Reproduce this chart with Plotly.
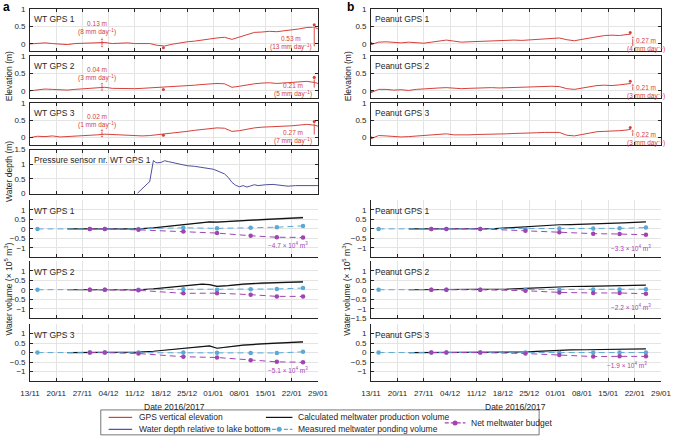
import plotly.graph_objects as go
import pandas as pd

# ---------------- data ----------------
TICK_DATES = ["2016-11-13", "2016-11-20", "2016-11-27", "2016-12-04", "2016-12-11", "2016-12-18",
              "2016-12-25", "2017-01-01", "2017-01-08", "2017-01-15", "2017-01-22", "2017-01-29"]
TICK_LABELS = ["13/11", "20/11", "27/11", "04/12", "11/12", "18/12",
               "25/12", "01/01", "08/01", "15/01", "22/01", "29/01"]
X_RANGE = ["2016-11-13", "2017-01-29"]

# GPS elevation (m), 2-day sampling
WT_DATES = list(pd.date_range("2016-11-13", periods=39, freq="2D").strftime("%Y-%m-%d")) + ["2017-01-29"]
WT_GPS1 = [0.00, 0.02, 0.03, 0.01, 0.00, -0.02, 0.01, 0.02, 0.01, 0.03, 0.04, 0.01, 0.02, 0.03, 0.01,
           0.00, 0.01, -0.04, -0.06, -0.01, 0.03, 0.06, 0.08, 0.12, 0.14, 0.17, 0.19, 0.13, 0.20, 0.27,
           0.33, 0.34, 0.36, 0.35, 0.37, 0.41, 0.43, 0.47, 0.48, 0.43]
WT_GPS2 = [0.00, 0.03, 0.05, 0.04, 0.03, 0.02, 0.04, 0.05, 0.06, 0.07, 0.10, 0.07, 0.06, 0.05, 0.06,
           0.07, 0.08, 0.09, 0.10, 0.11, 0.12, 0.14, 0.16, 0.18, 0.20, 0.21, 0.20, 0.10, 0.13, 0.17,
           0.20, 0.22, 0.23, 0.21, 0.22, 0.24, 0.26, 0.27, 0.24, 0.21]
WT_GPS3 = [0.00, 0.04, 0.03, 0.05, 0.02, 0.03, 0.05, 0.04, 0.07, 0.08, 0.10, 0.09, 0.07, 0.06, 0.05,
           0.05, 0.06, 0.08, 0.10, 0.13, 0.15, 0.18, 0.21, 0.23, 0.26, 0.28, 0.27, 0.18, 0.20, 0.25,
           0.28, 0.30, 0.31, 0.30, 0.31, 0.34, 0.36, 0.38, 0.36, 0.33]

PN_DATES = list(pd.date_range("2016-11-13", periods=35, freq="2D").strftime("%Y-%m-%d")) + ["2017-01-21"]
PN_GPS1 = [-0.02, 0.05, 0.06, 0.04, 0.03, 0.05, 0.03, 0.02, 0.05, 0.07, 0.11, 0.08, 0.05, 0.06, 0.07,
           0.06, 0.08, 0.09, 0.10, 0.11, 0.10, 0.11, 0.12, 0.14, 0.16, 0.17, 0.12, 0.09, 0.13, 0.17,
           0.22, 0.24, 0.25, 0.24, 0.27, 0.28]
PN_GPS2 = [-0.05, 0.04, 0.04, 0.02, 0.03, 0.01, 0.04, 0.06, 0.07, 0.08, 0.09, 0.07, 0.06, 0.07, 0.08,
           0.09, 0.09, 0.08, 0.09, 0.10, 0.10, 0.11, 0.11, 0.12, 0.13, 0.12, 0.06, 0.04, 0.08, 0.11,
           0.15, 0.16, 0.15, 0.17, 0.19, 0.21]
PN_GPS3 = [-0.03, 0.06, 0.05, 0.03, 0.02, 0.03, 0.05, 0.06, 0.08, 0.10, 0.11, 0.08, 0.07, 0.08, 0.09,
           0.09, 0.10, 0.11, 0.11, 0.12, 0.12, 0.13, 0.14, 0.15, 0.16, 0.15, 0.07, 0.05, 0.09, 0.13,
           0.17, 0.18, 0.18, 0.20, 0.22, 0.24]

# uplift events: (date, low, high)
WT_EVENT1_DATE = "2016-12-02 06:00"
WT_EVENT1 = [(-0.07, 0.13), (0.02, 0.20), (0.03, 0.21)]
WT_EVENT1_TEXT = ["0.13 m<br>(8 mm day<sup>−1</sup>)", "0.04 m<br>(3 mm day<sup>−1</sup>)",
                  "0.02 m<br>(1 mm day<sup>−1</sup>)"]
WT_DOT_DATE = "2016-12-18 16:00"
WT_DOT = [-0.11, 0.04, 0.07]
WT_EVENT2_DATE = "2017-01-28 00:00"
WT_EVENT2 = [(-0.07, 0.52), (0.09, 0.36), (0.09, 0.43)]
WT_EVENT2_TEXT = ["0.53 m<br>(13 mm day<sup>−1</sup>)", "0.21 m<br>(5 mm day<sup>−1</sup>)",
                  "0.27 m<br>(7 mm day<sup>−1</sup>)"]
PN_DOT_DATE = "2017-01-20 20:00"
PN_DOT = [0.33, 0.27, 0.29]
PN_EVENT_DATE = "2017-01-21 12:00"
PN_EVENT = [(-0.06, 0.18), (0.02, 0.16), (0.05, 0.19)]
PN_EVENT_TEXT = ["0.27 m<br>(4 mm day<sup>−1</sup>)", "0.21 m<br>(3 mm day<sup>−1</sup>)",
                 "0.22 m<br>(3 mm day<sup>−1</sup>)"]

# pressure sensor water depth (m)
DEPTH_DATES = ["2016-12-11 16:00", "2016-12-13 00:00", "2016-12-14 12:00", "2016-12-15 00:00",
               "2016-12-15 12:00", "2016-12-16 00:00", "2016-12-16 12:00", "2016-12-17 00:00",
               "2016-12-18 00:00", "2016-12-19 00:00", "2016-12-20 00:00", "2016-12-21 00:00",
               "2016-12-22 00:00", "2016-12-24 00:00", "2016-12-25 00:00", "2016-12-27 00:00",
               "2016-12-29 00:00", "2016-12-31 00:00", "2017-01-01 00:00", "2017-01-02 00:00",
               "2017-01-03 00:00", "2017-01-04 00:00", "2017-01-05 00:00", "2017-01-06 00:00",
               "2017-01-07 00:00", "2017-01-08 00:00", "2017-01-09 00:00", "2017-01-10 00:00",
               "2017-01-11 00:00", "2017-01-12 00:00", "2017-01-13 00:00", "2017-01-14 00:00",
               "2017-01-15 00:00", "2017-01-17 00:00", "2017-01-19 00:00", "2017-01-21 00:00",
               "2017-01-23 00:00", "2017-01-25 00:00", "2017-01-27 00:00", "2017-01-29 00:00"]
DEPTH = [0.00, 0.18, 0.35, 0.40, 0.75, 1.13, 1.07, 1.05, 1.06, 1.12, 1.09, 1.06,
         1.02, 0.98, 0.95, 0.93, 0.90, 0.86, 0.83, 0.78, 0.73, 0.67, 0.55, 0.38,
         0.28, 0.23, 0.27, 0.22, 0.26, 0.30, 0.27, 0.29, 0.30, 0.31, 0.29, 0.25,
         0.27, 0.27, 0.27, 0.27]

# water volumes (x 10^5 m^3)
CALC_DATES = ["2016-11-23", "2016-11-30", "2016-12-06", "2016-12-12", "2016-12-16", "2016-12-19",
              "2016-12-24", "2016-12-27", "2016-12-29", "2016-12-31", "2017-01-02", "2017-01-05",
              "2017-01-09", "2017-01-14", "2017-01-19", "2017-01-25"]
CALC_WT1 = [0, 0, 0, 0.0, 0.05, 0.12, 0.20, 0.28, 0.33, 0.37, 0.36, 0.38, 0.44, 0.49, 0.54, 0.60]
CALC_WT2 = [0, 0, 0, 0.0, 0.05, 0.10, 0.19, 0.26, 0.30, 0.27, 0.18, 0.22, 0.30, 0.35, 0.39, 0.42]
CALC_WT3 = [0, 0, 0, 0.02, 0.07, 0.13, 0.23, 0.28, 0.32, 0.35, 0.23, 0.30, 0.39, 0.46, 0.49, 0.56]
CALC_UNC = [0, 0, 0, 0, 0.005, 0.01, 0.015, 0.02, 0.02, 0.025, 0.025, 0.03, 0.035, 0.04, 0.045, 0.05]
CALC_PN1 = [0, 0, 0, 0.0, 0.02, 0.05, 0.12, 0.15, 0.18, 0.20, 0.22, 0.23, 0.25, 0.28, 0.32, 0.37]
CALC_PN2 = [0, 0, 0, 0.0, 0.01, 0.03, 0.07, 0.10, 0.12, 0.14, 0.16, 0.17, 0.18, 0.20, 0.22, 0.24]
CALC_PN3 = [0, 0, 0, 0.0, 0.00, 0.01, 0.03, 0.06, 0.08, 0.10, 0.12, 0.14, 0.15, 0.16, 0.18, 0.20]

POND_DATES = ["2016-11-15", "2016-11-29", "2016-12-03", "2016-12-12", "2016-12-24",
              "2017-01-02", "2017-01-11", "2017-01-18", "2017-01-25"]
POND_WT1 = [0, 0, 0, 0, 0.06, 0.03, 0.06, 0.09, 0.16]
POND_WT2 = [0, 0, 0, 0, 0.02, 0.00, 0.02, 0.04, 0.09]
POND_WT3 = [0, 0, 0, 0, 0.00, -0.01, -0.02, -0.02, 0.04]
POND_PN1 = [0, 0, 0, 0, 0.00, 0.02, 0.02, 0.03, 0.07]
POND_PN2 = [0, 0, 0, 0, 0.00, 0.00, 0.01, 0.01, 0.03]
POND_PN3 = [0, 0, 0, 0, 0.00, -0.01, 0.00, 0.00, 0.00]

NET_DATES = POND_DATES[1:]
NET_WT1 = [0, 0, -0.05, -0.14, -0.22, -0.36, -0.44, -0.45]
NET_WT2 = [0, 0, -0.03, -0.19, -0.18, -0.26, -0.35, -0.35]
NET_WT3 = [0, 0, -0.05, -0.22, -0.26, -0.40, -0.49, -0.51]
NET_PN1 = [0, 0, 0.0, -0.10, -0.18, -0.25, -0.27, -0.31]
NET_PN2 = [0, 0, 0.0, -0.05, -0.14, -0.17, -0.17, -0.21]
NET_PN3 = [0, 0, 0.0, -0.05, -0.13, -0.21, -0.20, -0.20]
NET_TEXT = ["−4.7 × 10<sup>4</sup> m<sup>3</sup>", None, "−5.1 × 10<sup>4</sup> m<sup>3</sup>",
            "−3.3 × 10<sup>4</sup> m<sup>3</sup>", "−2.2 × 10<sup>4</sup> m<sup>3</sup>",
            "−1.9 × 10<sup>4</sup> m<sup>3</sup>"]
NET_TEXT_POS = [("2017-01-21", -0.84), None, ("2017-01-21", -0.90),
                ("2017-01-21", -1.0), ("2017-01-21", -0.90), ("2017-01-20", -0.68)]

# ---------------- layout helpers ----------------
W, H = 677, 436
ML, MR, MT, MB = 30, 5, 8, 55
PW = W - ML - MR
PH = H - MT - MB
FONT = "Liberation Sans, Arial, sans-serif"
AX = "#262626"
GRID = "#e4e4e4"
RED = "#d6403a"
BLUE = "#4f4f9e"
CYAN = "#5aa9d6"
PURP = "#a044b2"


def fx(px):
    return (px - ML) / PW


def fy(py):
    return (H - MB - py) / PH


LEFT_X = [fx(30), fx(323)]
RIGHT_X = [fx(377), fx(672)]
ROWS = {1: (8, 50), 2: (55, 97), 3: (102, 144), 4: (149, 193), 5: (200, 257), 6: (261, 318), 7: (324, 381)}


def aid(n):
    return "" if n == 1 else str(n)


fig = go.Figure()
lay = {}


def add_axes(n, col, row, yrange, ytv, ytt, box, xlabels):
    xa = dict(domain=LEFT_X if col == 0 else RIGHT_X, anchor="y" + aid(n), type="date", range=X_RANGE,
              tickvals=TICK_DATES, ticktext=TICK_LABELS, showticklabels=xlabels, ticks="inside", ticklen=3,
              tickwidth=0.8, tickcolor=AX, showline=True, linecolor=AX, linewidth=0.8,
              mirror="allticks" if box else False, showgrid=True, gridcolor=GRID, gridwidth=0.6,
              zeroline=False, tickfont=dict(size=8, color=AX, family=FONT), ticklabelstandoff=4)
    r = ROWS[row]
    ya = dict(domain=[fy(r[1]), fy(r[0])], anchor="x" + aid(n), range=yrange, tickvals=ytv, ticktext=ytt,
              ticks="inside", ticklen=3, tickwidth=0.8, tickcolor=AX, showline=True, linecolor=AX,
              linewidth=0.8, mirror="allticks" if box else False, showgrid=True, gridcolor=GRID,
              gridwidth=0.6, zeroline=False, tickfont=dict(size=8, color=AX, family=FONT), ticklabelstandoff=2)
    lay["xaxis" + aid(n)] = xa
    lay["yaxis" + aid(n)] = ya


def label(n, text):
    fig.add_annotation(xref="x" + aid(n) + " domain", yref="y" + aid(n) + " domain", x=0.008, y=0.93,
                       xanchor="left", yanchor="top", text=text, showarrow=False,
                       font=dict(size=8.5, color=AX, family=FONT))


ELEV_T = [0, 0.5, 1]
ELEV_L = ["0", "0.5", "1"]
VOL_T = [-1, -0.5, 0, 0.5, 1]
VOL_L = ["−1", "−0.5", "0", "0.5", "1"]
VOL_T2 = [-1.5, -1, -0.5, 0, 0.5, 1]
VOL_L2 = ["−1.5", "−1", "−0.5", "0", "0.5", "1"]

# elevation panels
elev_sets = [(1, 0, 1, WT_DATES, WT_GPS1, "WT GPS 1"), (2, 0, 2, WT_DATES, WT_GPS2, "WT GPS 2"),
             (3, 0, 3, WT_DATES, WT_GPS3, "WT GPS 3"), (8, 1, 1, PN_DATES, PN_GPS1, "Peanut GPS 1"),
             (9, 1, 2, PN_DATES, PN_GPS2, "Peanut GPS 2"), (10, 1, 3, PN_DATES, PN_GPS3, "Peanut GPS 3")]
for n, col, row, d, v, name in elev_sets:
    add_axes(n, col, row, [-0.2, 1.0], ELEV_T, ELEV_L, True, False)
    fig.add_trace(go.Scatter(x=d, y=v, mode="lines", line=dict(color=RED, width=1), xaxis="x" + aid(n),
                             yaxis="y" + aid(n), showlegend=False, hoverinfo="skip"))
    label(n, name)


def arrow(n, date, lo, hi, double):
    fig.add_trace(go.Scatter(x=[date, date], y=[lo, hi], mode="lines+markers",
                             line=dict(color=RED, width=0.9),
                             marker=dict(symbol=["triangle-down" if double else "circle", "triangle-up"],
                                         size=[4 if double else 0, 4], color=RED),
                             xaxis="x" + aid(n), yaxis="y" + aid(n), showlegend=False, hoverinfo="skip"))


def dot(n, date, y):
    fig.add_trace(go.Scatter(x=[date], y=[y], mode="markers", marker=dict(size=3, color=RED),
                             xaxis="x" + aid(n), yaxis="y" + aid(n), showlegend=False, hoverinfo="skip"))


def rtext(n, x, y, text, xanchor, color=RED, size=6.5):
    fig.add_annotation(xref="x" + aid(n), yref="y" + aid(n), x=x, y=y, text=text, showarrow=False,
                       xanchor=xanchor, yanchor="middle", align="center",
                       font=dict(size=size, color=color, family=FONT))


for i, n in enumerate([1, 2, 3]):
    lo, hi = WT_EVENT1[i]
    arrow(n, WT_EVENT1_DATE, lo, hi, True)
    rtext(n, "2016-12-01 00:00", 0.47, WT_EVENT1_TEXT[i], "center")
    dot(n, WT_DOT_DATE, WT_DOT[i])
    lo, hi = WT_EVENT2[i]
    arrow(n, WT_EVENT2_DATE, lo, hi, False)
    dot(n, WT_EVENT2_DATE, hi + 0.03)
    rtext(n, "2017-01-27 20:00", 0.02, WT_EVENT2_TEXT[i], "right")

for i, n in enumerate([8, 9, 10]):
    dot(n, PN_DATES[0], [PN_GPS1, PN_GPS2, PN_GPS3][i][0] + 0.03)
    dot(n, PN_DOT_DATE, PN_DOT[i])
    lo, hi = PN_EVENT[i]
    arrow(n, PN_EVENT_DATE, lo, hi, False)
    rtext(n, "2017-01-25 01:00", -0.04, PN_EVENT_TEXT[i], "center")

# water depth panel
add_axes(4, 0, 4, [0, 1.5], [0, 0.5, 1, 1.5], ["0", "0.5", "1", "1.5"], True, False)
fig.add_trace(go.Scatter(x=DEPTH_DATES, y=DEPTH, mode="lines", line=dict(color=BLUE, width=1),
                         xaxis="x4", yaxis="y4", showlegend=False, hoverinfo="skip"))
label(4, "Pressure sensor nr. WT GPS 1")

# volume panels
vol_sets = [(5, 0, 5, CALC_WT1, True, POND_WT1, NET_WT1, "WT GPS 1"),
            (6, 0, 6, CALC_WT2, True, POND_WT2, NET_WT2, "WT GPS 2"),
            (7, 0, 7, CALC_WT3, True, POND_WT3, NET_WT3, "WT GPS 3"),
            (11, 1, 5, CALC_PN1, False, POND_PN1, NET_PN1, "Peanut GPS 1"),
            (12, 1, 6, CALC_PN2, False, POND_PN2, NET_PN2, "Peanut GPS 2"),
            (13, 1, 7, CALC_PN3, False, POND_PN3, NET_PN3, "Peanut GPS 3")]
for k, (n, col, row, calc, band, pond, net, name) in enumerate(vol_sets):
    if n == 12:
        add_axes(n, col, row, [-1.5, 1.5], VOL_T2, VOL_L2, False, row == 7)
    else:
        add_axes(n, col, row, [-1.5, 1.5], VOL_T, VOL_L, False, row == 7)
    xa, ya = "x" + aid(n), "y" + aid(n)
    if band:
        fig.add_trace(go.Scatter(x=CALC_DATES, y=[c - u for c, u in zip(calc, CALC_UNC)], mode="lines",
                                 line=dict(width=0, color="rgba(0,0,0,0)"), xaxis=xa, yaxis=ya,
                                 showlegend=False, hoverinfo="skip"))
        fig.add_trace(go.Scatter(x=CALC_DATES, y=[c + u for c, u in zip(calc, CALC_UNC)], mode="lines",
                                 line=dict(width=0, color="rgba(0,0,0,0)"), fill="tonexty",
                                 fillcolor="rgba(140,140,140,0.55)", xaxis=xa, yaxis=ya,
                                 showlegend=False, hoverinfo="skip"))
    fig.add_trace(go.Scatter(x=CALC_DATES, y=calc, mode="lines", line=dict(color="#111111", width=1.2),
                             xaxis=xa, yaxis=ya, showlegend=False, hoverinfo="skip"))
    fig.add_trace(go.Scatter(x=POND_DATES, y=pond, mode="lines+markers",
                             line=dict(color=CYAN, width=1, dash="6px,4px"),
                             marker=dict(size=4.5, color=CYAN), xaxis=xa, yaxis=ya,
                             showlegend=False, hoverinfo="skip"))
    fig.add_trace(go.Scatter(x=NET_DATES, y=net, mode="lines+markers",
                             line=dict(color=PURP, width=1, dash="6px,4px"),
                             marker=dict(size=4.5, color=PURP), xaxis=xa, yaxis=ya,
                             showlegend=False, hoverinfo="skip"))
    label(n, name)
    if NET_TEXT[k]:
        rtext(n, NET_TEXT_POS[k][0], NET_TEXT_POS[k][1], NET_TEXT[k], "center", PURP, 6.5)


# axis titles and panel letters
def ptext(px, py, text, size=8.5, angle=0, bold=False, xanchor="center"):
    fig.add_annotation(xref="paper", yref="paper", x=fx(px), y=fy(py), text=("<b>%s</b>" % text) if bold else text,
                       showarrow=False, textangle=angle, xanchor=xanchor, yanchor="middle",
                       font=dict(size=size, color=AX if not bold else "#000000", family=FONT))


ptext(8, 75, "Elevation (m)", angle=-90)
ptext(8, 171, "Water depth (m)", angle=-90)
ptext(8, 289, "Water volume (× 10<sup>5</sup> m<sup>3</sup>)", angle=-90)
ptext(353, 75, "Elevation (m)", angle=-90)
ptext(352, 289, "Water volume (× 10<sup>5</sup> m<sup>3</sup>)", angle=-90)
ptext(177, 407, "Date 2016/2017")
ptext(524, 407, "Date 2016/2017")
ptext(6, 6, "a", size=12, bold=True)
ptext(356, 6, "b", size=12, bold=True)

# legend (drawn manually)
shapes = [dict(type="rect", xref="paper", yref="paper", x0=fx(102), x1=fx(548), y0=fy(435), y1=fy(410),
               line=dict(color="#555555", width=0.8), fillcolor="white")]
LEG = [(110, 134, 417.5, RED, None, "GPS vertical elevation", 139),
       (110, 134, 429.5, BLUE, None, "Water depth relative to lake bottom", 139),
       (270, 297, 417.5, "#111111", None, "Calculated meltwater production volume", 301),
       (270, 297, 429.5, CYAN, "dash", "Measured meltwater ponding volume", 301),
       (452, 473, 423, PURP, "dash", "Net meltwater budget", 477)]
for x0, x1, yy, c, ds, txt, tx in LEG:
    shapes.append(dict(type="line", xref="paper", yref="paper", x0=fx(x0), x1=fx(x1), y0=fy(yy), y1=fy(yy),
                       line=dict(color=c, width=1.2, dash="4px,2px" if ds else "solid")))
    if ds:
        xm = (x0 + x1) / 2
        shapes.append(dict(type="circle", xref="paper", yref="paper", xsizemode="pixel", ysizemode="pixel",
                           xanchor=fx(xm), yanchor=fy(yy), x0=-2.5, x1=2.5, y0=-2.5, y1=2.5,
                           fillcolor=c, line=dict(color=c, width=0)))
    ptext(tx, yy, txt, size=8.5, xanchor="left")

fig.update_layout(width=W, height=H, margin=dict(l=ML, r=MR, t=MT, b=MB), plot_bgcolor="white",
                  paper_bgcolor="white", showlegend=False, shapes=shapes,
                  font=dict(family=FONT, size=8, color=AX), **lay)
fig.write_html("out.html", config={"displayModeBar": False},
               post_script="document.body.style.margin='0px';")
